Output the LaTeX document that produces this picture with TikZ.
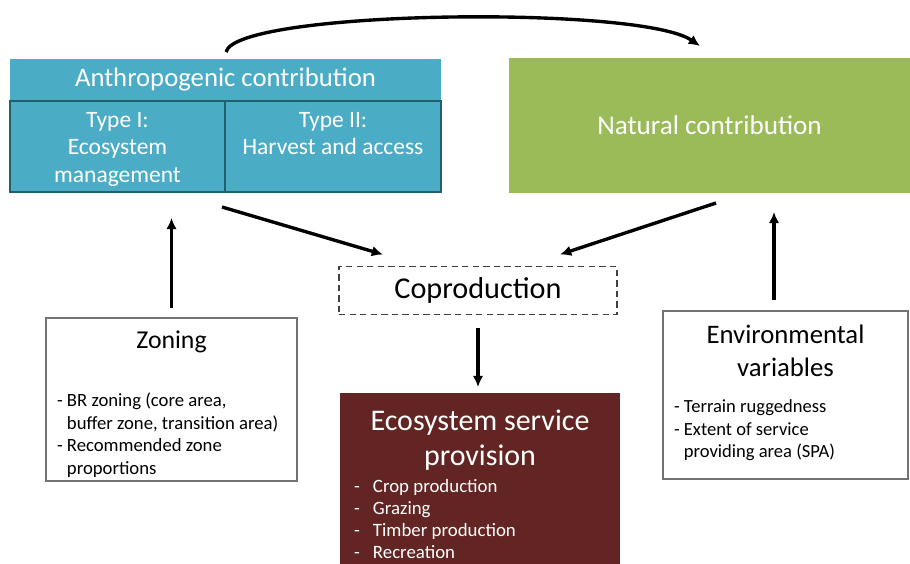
\documentclass[tikz,border=0pt]{standalone}
\usepackage{fontspec}
\setmainfont{Carlito}
\usepackage{tikz}
\usetikzlibrary{arrows.meta}
\usetikzlibrary{calc}
\definecolor{anthroblue}{HTML}{4BACC6}
\definecolor{anthroedge}{HTML}{23606F}
\definecolor{natgreen}{HTML}{9BBB59}
\definecolor{esred}{HTML}{632523}
\definecolor{edgegray}{HTML}{737373}
\tikzset{arrow/.style={->, >={Latex[length=8pt, width=7.6pt]}, line width=2.4pt}}
\tikzset{boxsize/.style 2 args={minimum width=#1*0.025cm, minimum height=#2*0.025cm}}
\tikzset{plain/.style={inner sep=0pt, outer sep=0pt}}

\begin{document}
\begin{tikzpicture}[x=0.025cm, y=-0.025cm]
      \useasboundingbox (0,0) rectangle (910,564);

      % the two contributions
      \node[plain, fill=anthroblue, boxsize={431}{42}, text=white,
        font=\fontsize{19}{23}\selectfont] (anthro) at (225.5, 80)
      {Anthropogenic contribution};
      \node[plain, fill=anthroblue, draw=anthroedge, line width=1.4pt,
        boxsize={215}{91}] (typeI) at (117.5, 146.5) {};
      \node[plain, fill=anthroblue, draw=anthroedge, line width=1.4pt,
        boxsize={216}{91}] (typeII) at (333, 146.5) {};
      \node[plain, anchor=north, align=center, text=white,
        font=\fontsize{16.7}{19.8}\selectfont] (typeItext)
        at ($(typeI.north)+(0,11)$)
      {Type I:\\Ecosystem\\management};
      \node[plain, anchor=north, align=center, text=white,
        font=\fontsize{16.7}{19.8}\selectfont] (typeIItext)
        at ($(typeII.north)+(0,11)$)
      {Type II:\\Harvest and access};

      \node[plain, fill=natgreen, boxsize={401}{135}, text=white,
        font=\fontsize{19.3}{23}\selectfont] (natural) at (709.5, 125.5)
      {Natural contribution};

      % coproduction
      \node[plain, draw=black!75, dash pattern=on 4.5pt off 3pt, line width=0.9pt,
        boxsize={278}{48}, font=\fontsize{21.5}{26}\selectfont] (coprod)
        at (478, 290.5) {Coproduction};

      % drivers
      \node[plain, draw=edgegray, line width=0.8pt, boxsize={251}{163}] (zoning)
        at (171.5, 399.5) {};
      \node[plain, font=\fontsize{18.3}{22}\selectfont] (zoningtitle)
        at (171.5, 342) {Zoning};
      \node[plain, anchor=north west, align=left,
        font=\fontsize{13.3}{16}\selectfont] (zoninglist) at (57, 393)
      {- BR zoning (core area,\\\phantom{- }buffer zone, transition area)\\
       - Recommended zone\\\phantom{- }proportions};

      \node[plain, draw=edgegray, line width=0.8pt, boxsize={245}{168}] (env)
        at (785.5, 395) {};
      \node[plain, anchor=north, align=center,
        font=\fontsize{19}{23.4}\selectfont] (envtitle) at (785.5, 325)
      {Environmental\\variables};
      \node[plain, anchor=north west, align=left,
        font=\fontsize{13.2}{16}\selectfont] (envlist) at (674, 400)
      {- Terrain ruggedness\\- Extent of service\\\phantom{- }providing area (SPA)};

      % provision
      \node[plain, fill=esred, boxsize={280}{182}] (esp) at (480, 484) {};
      \node[plain, anchor=north, align=center, text=white,
        font=\fontsize{21.3}{24.8}\selectfont] (esptitle) at (480, 410)
      {Ecosystem service\\provision};
      \node[plain, anchor=north west, align=left, text=white,
        font=\fontsize{13.4}{15.8}\selectfont] (esplist) at (354, 479)
      {\makebox[13.5pt][l]{-}Crop production\\
       \makebox[13.5pt][l]{-}Grazing\\
       \makebox[13.5pt][l]{-}Timber production\\
       \makebox[13.5pt][l]{-}Recreation};

      \draw[arrow, line width=2.4pt] ($(anthro.north)+(0.5,-7)$)
        .. controls +(10,-42) and +(-60,-41) .. ($(natural.north)+(-9.5,-12)$);
      \draw[arrow] ($(typeI.south east)+(-3,15)$) -- ($(coprod.north west)+(44,-12)$);
      \draw[arrow] ($(natural.south)+(6.5,10)$) -- ($(coprod.north east)+(-57,-12)$);
      \draw[arrow] ($(coprod.south)+(0,14)$) -- ($(coprod.south |- esp.north)+(0,-6)$);
      \draw[arrow] ($(zoning.north)+(0,-10)$) -- ($(zoning.north |- typeI.south)+(0,26)$);
      \draw[arrow] ($(env.north)+(-11.5,-11)$) -- ($(env.north |- natural.south)+(-11.5,19)$);
    \end{tikzpicture}
\end{document}
